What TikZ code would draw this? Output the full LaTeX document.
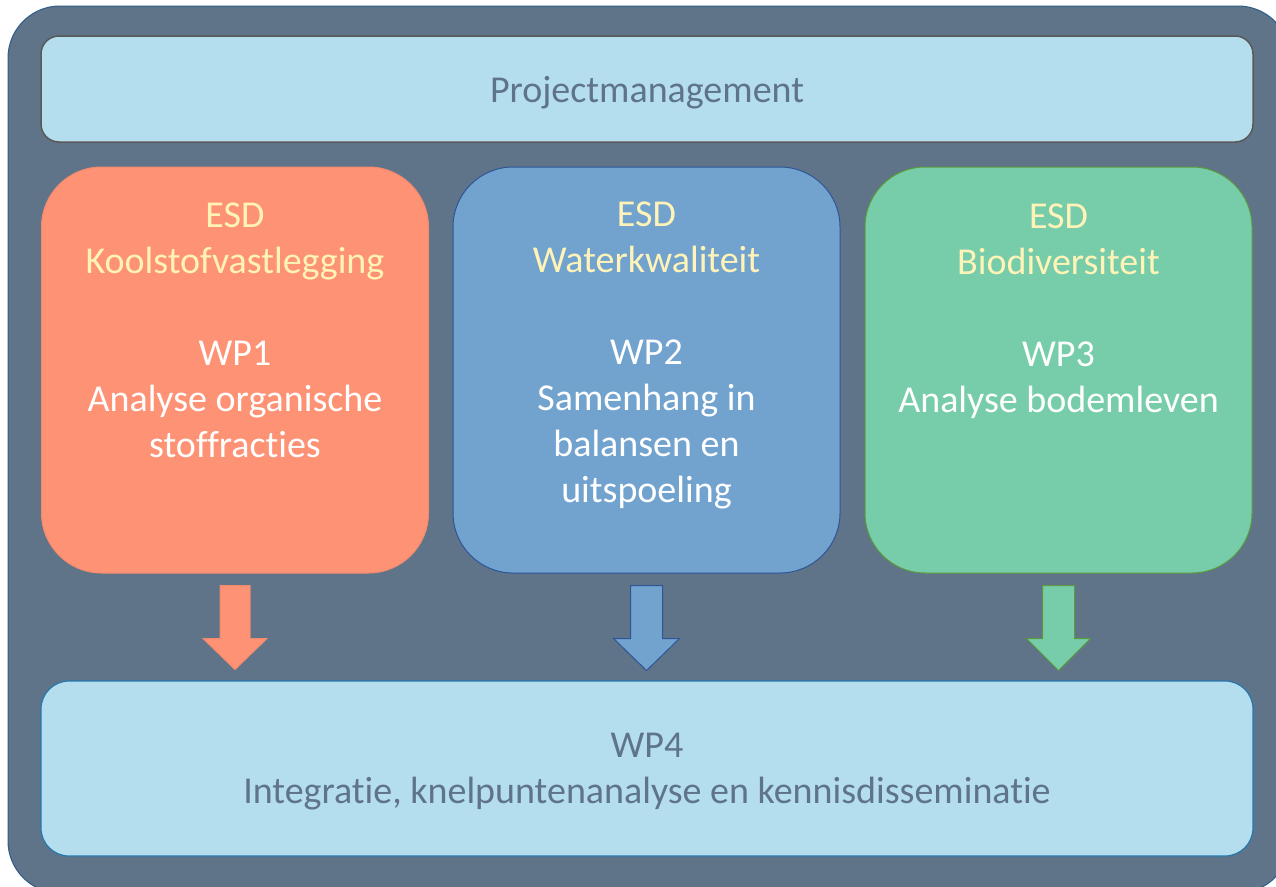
\documentclass[tikz,border=0pt]{standalone}
\usepackage{fontspec}
\setmainfont{Carlito}[Ligatures=NoCommon]
\usetikzlibrary{positioning}
\definecolor{framefill}{HTML}{5F7489}
\definecolor{frameline}{HTML}{2E5C8A}
\definecolor{lightfill}{HTML}{B4DEEE}
\definecolor{graytext}{HTML}{5F7489}
\definecolor{orangefill}{HTML}{FE9275}
\definecolor{orangeline}{HTML}{F28A6E}
\definecolor{bluefill}{HTML}{72A3CF}
\definecolor{blueline}{HTML}{2F5597}
\definecolor{greenfill}{HTML}{77CDAA}
\definecolor{greenline}{HTML}{5C9A3C}
\definecolor{esdyellow}{HTML}{FFF3B8}
\newcommand{\esd}[1]{\textcolor{esdyellow}{#1}}
\begin{document}
\begin{tikzpicture}[x=1pt,y=-1pt,
  every node/.style={font=\fontsize{38}{46}\selectfont},
  lightbox/.style={fill=lightfill,text=graytext,minimum width=1212pt,inner sep=0pt,align=center,text depth=0pt},
  wpbox/.style={rounded corners=60pt,minimum width=387pt,minimum height=406pt,line width=1pt},
  wptext/.style={align=center,inner sep=0pt,text=white},
  blockarrow/.style={line width=1pt,line join=miter}]
  \useasboundingbox (0,0) rectangle (1276,886);
  \draw[fill=framefill,draw=frameline,line width=1pt,rounded corners=52pt] (8,6) rectangle (1290,893);
  % management and integration
  \node[lightbox,draw=black!65,line width=1.5pt,rounded corners=18pt,minimum height=106pt] (pm) at (647,89) {Projectmanagement};
  \node[lightbox,draw=blueline!80!cyan,line width=1.2pt,rounded corners=28pt,minimum height=175pt] (wp4) at (647,768.5)
    {WP4\\Integratie, knelpuntenanalyse en kennisdisseminatie};
  % work packages
  \node[wpbox,fill=orangefill,draw=orangeline] (wp1) at (235,370) {};
  \node[wpbox,fill=bluefill,draw=blueline] (wp2) at (646.5,370) {};
  \node[wpbox,fill=greenfill,draw=greenline] (wp3) at (1058.5,370) {};
  \node[wptext,below=36pt of wp1.north] (t1) {\esd{ESD}\\\esd{Koolstofvastlegging}\\[46pt]WP1\\Analyse organische\\stoffracties};
  \node[wptext,below=35pt of wp2.north] (t2) {\esd{ESD}\\\esd{Waterkwaliteit}\\[46pt]WP2\\Samenhang in\\balansen en\\uitspoeling};
  \node[wptext,below=37pt of wp3.north] (t3) {\esd{ESD}\\\esd{Biodiversiteit}\\[46pt]WP3\\Analyse bodemleven};
  % block arrows
  \draw[blockarrow,fill=orangefill,draw=orangeline] (wp1.south) ++(-15,12) -- ++(0,53) -- ++(-17,0) -- ++(32,31) -- ++(32,-31) -- ++(-17,0) -- ++(0,-53) -- cycle;
  \draw[blockarrow,fill=bluefill,draw=blueline] (wp2.south) ++(-16,12) -- ++(0,53) -- ++(-17,0) -- ++(33,32) -- ++(33,-32) -- ++(-17,0) -- ++(0,-53) -- cycle;
  \draw[blockarrow,fill=greenfill,draw=greenline] (wp3.south) ++(-16,12) -- ++(0,53) -- ++(-16,0) -- ++(32,32) -- ++(32,-32) -- ++(-16,0) -- ++(0,-53) -- cycle;
\end{tikzpicture}
\end{document}
